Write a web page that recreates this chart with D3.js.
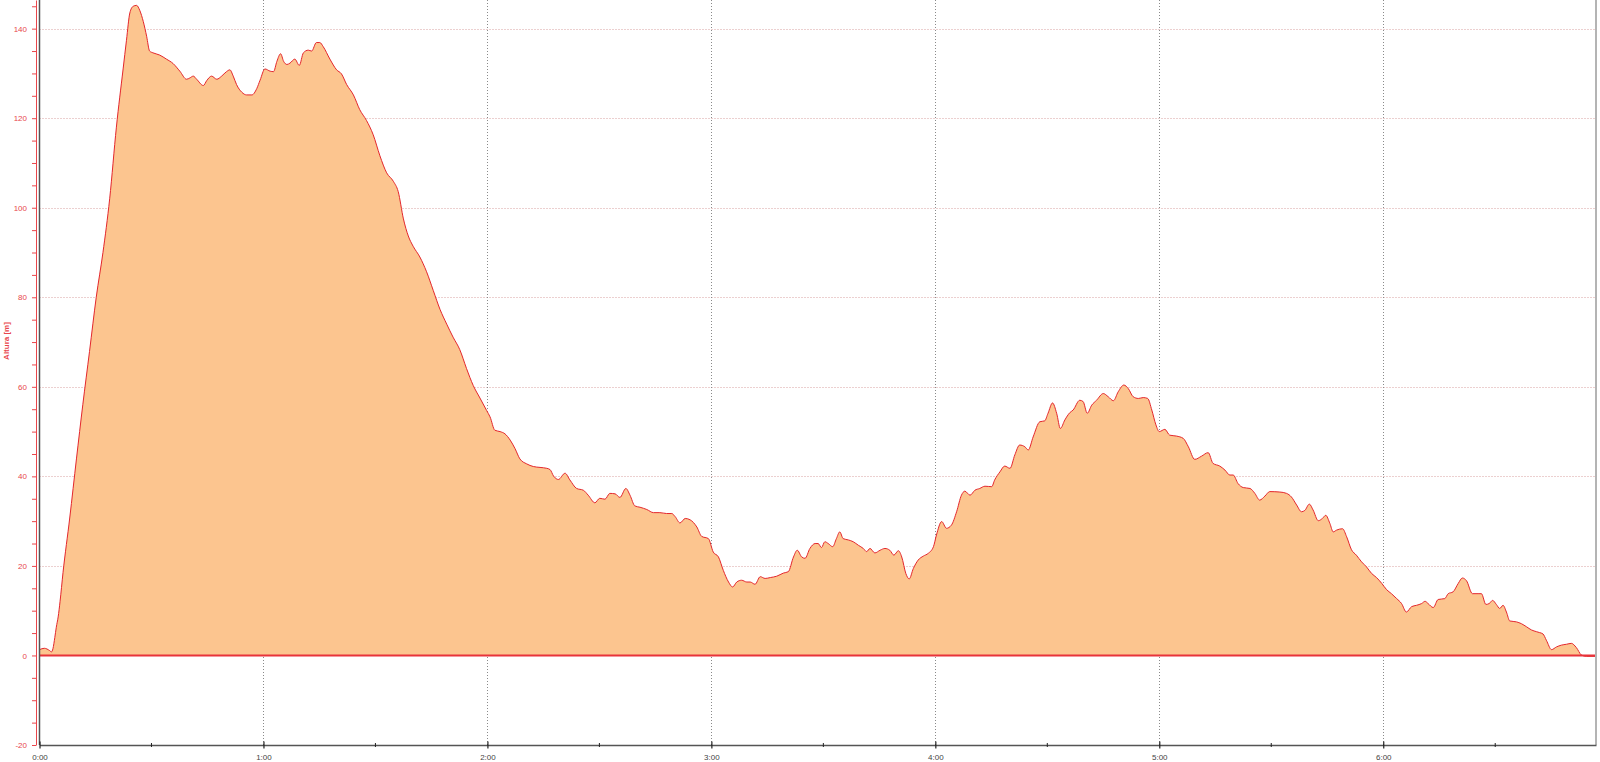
<!DOCTYPE html>
<html>
<head>
<meta charset="utf-8">
<script src="https://cdn.jsdelivr.net/npm/d3@7"></script>
<style>
html,body{margin:0;padding:0;background:#fff;overflow:hidden}
svg{display:block;font-family:"Liberation Sans",Arial,sans-serif}
</style>
</head>
<body>
<svg id="chart" width="1600" height="762"></svg>
<script>
// ---- data (elapsed time in minutes, altitude in metres) ----
const elapsedMin = [
  0,1.3,2.7,3.2,3.6,4.1,4.5,5.0,5.5,6.3,8.1,9.9,11.6,13.4,15.2,17.0,18.8,20.6,22.4,23.3,
  24.2,25.1,26.0,26.9,27.8,28.7,29.5,30.4,32.2,34.0,35.8,37.6,39.4,40.3,41.2,42.1,43.9,44.8,46.1,47.5,
  48.8,50.1,51.0,51.9,52.8,54.2,55.5,56.9,58.2,59.1,60.4,61.8,62.7,63.6,64.6,65.4,66.3,67.1,
  68.4,69.6,70.7,72.0,72.9,74.2,75.1,76.0,77.8,79.6,80.9,82.3,84.1,85.8,87.6,89.4,91.2,93.0,94.8,96.1,
  97.5,98.8,100.1,101.9,103.7,105.5,107.3,109.1,110.8,112.6,114.4,116.2,118.0,119.8,120.7,122.0,123.4,124.7,126.1,127.4,
  128.7,130.5,132.3,134.1,135.9,136.8,137.7,138.6,
  139.0,140.8,142.1,143.9,145.7,147.0,148.8,150.1,151.5,152.8,154.2,155.5,157.1,158.2,159.5,160.9,162.7,164.5,166.2,168.0,
  169.4,170.3,171.6,173.0,174.3,176.1,177.4,179.2,180.5,181.9,183.2,184.6,185.7,186.8,188.1,189.5,190.4,191.7,193.1,194.4,
  195.8,197.5,199.3,200.6,202.0,203.0,204.2,205.1,206.4,207.8,
  208.6,209.5,210.4,211.3,212.5,213.5,214.4,215.3,216.7,218.0,219.4,220.7,221.6,222.5,223.8,225.2,226.5,227.8,228.9,230.1,
  231.0,232.1,233.0,234.1,235.4,236.8,238.1,239.5,240.3,241.7,243.0,244.3,245.7,247.0,247.9,249.3,250.6,251.9,253.3,255.1,
  255.9,257.3,258.6,260.0,261.3,262.6,264.0,264.9,266.2,268.0,269.3,270.2,271.4,272.5,273.5,274.7,
  276.0,276.9,278.7,279.6,280.7,281.9,283.2,285.0,286.3,287.7,289.0,290.5,291.7,293.0,294.4,295.7,296.9,298.0,299.1,300.0,
  301.5,302.8,304.6,306.4,307.8,309.5,311.3,313.1,314.4,316.2,317.6,318.9,319.8,321.1,322.5,324.3,325.6,326.9,328.3,329.6,
  332.3,334.1,335.4,336.8,338.1,339.0,340.2,341.2,342.6,343.7,344.6,345.7,
  346.6,347.5,349.1,350.2,351.5,352.8,354.2,355.5,356.9,358.2,359.6,360.9,362.2,363.6,364.9,366.2,367.6,368.9,370.3,371.2,
  372.0,373.4,374.7,376.5,377.4,378.7,380.1,381.2,382.3,383.9,385.4,386.3,387.5,388.4,389.3,390.3,391.2,392.1,393.0,393.9,
  395.7,397.0,398.4,399.7,401.1,401.9,402.8,403.7,405.1,406.4,407.7,409.1,410.4,411.7,413.1,414.4,416.2,417.0
];
const altitudeM = [
  1.3,1.6,1.1,0.8,1.5,4.0,6.3,8.6,12.0,18.5,30.7,43.9,56.0,67.9,80.0,90.0,102.0,118.0,131.0,137.4,
  143.5,145.0,145.2,144.0,141.6,138.3,135.0,134.6,134.1,133.2,132.2,130.5,128.7,129.0,129.4,128.7,127.3,128.4,129.4,128.7,
  129.4,130.4,130.8,129.4,127.5,125.8,125.2,125.2,126.6,128.5,131.0,130.5,130.4,132.7,134.4,132.7,132.0,132.3,
  133.2,131.8,134.6,135.2,135.0,136.9,136.9,136.0,133.2,130.8,129.9,127.5,125.2,121.9,119.5,116.3,111.6,107.8,105.9,103.6,
  97.5,93.7,91.4,89.0,85.7,81.5,77.3,74.0,71.1,68.3,64.1,60.3,57.5,54.7,53.3,50.3,50.0,49.5,48.1,46.2,
  43.9,42.8,42.2,42.0,41.8,41.5,40.1,39.4,
  39.3,40.7,39.2,37.3,36.9,35.8,34.1,35.1,34.9,36.2,36.1,35.3,37.3,35.8,33.4,33.1,32.6,31.9,31.9,31.7,
  31.7,31.0,29.6,30.6,30.3,28.7,26.6,26.1,23.1,22.0,19.0,16.4,15.3,16.4,16.8,16.4,16.4,15.9,17.6,17.2,
  17.4,17.7,18.4,18.7,22.0,23.5,22.0,21.7,23.9,25.0,
  25.0,24.1,25.4,25.0,24.3,26.1,27.6,26.1,25.8,25.4,24.6,23.9,23.2,23.9,22.9,23.5,23.9,23.5,22.4,23.4,
  22.0,18.3,17.1,19.4,21.3,22.2,22.8,24.3,26.9,29.9,28.4,29.1,32.1,35.8,36.7,35.8,36.9,37.3,37.8,37.7,
  39.2,41.0,42.3,41.8,44.8,47.0,46.6,45.9,48.8,52.2,52.4,54.1,56.4,54.1,50.7,52.6,
  54.2,54.8,57.0,56.7,54.1,55.9,57.0,58.5,57.8,56.9,58.9,60.4,59.6,57.8,57.4,57.6,57.4,54.8,51.5,50.0,
  50.5,49.2,49.0,48.5,46.6,43.8,44.5,45.3,42.9,42.3,41.4,40.3,40.3,38.4,37.5,37.3,36.2,34.7,35.6,36.6,
  36.5,36.2,35.4,33.6,32.1,32.4,33.8,32.5,30.1,30.6,31.3,29.5,
  27.6,28.0,28.3,26.5,23.6,22.4,20.9,19.8,18.3,17.4,16.1,14.7,13.8,12.7,11.6,9.7,10.9,11.2,11.6,12.1,
  11.6,10.7,12.5,12.7,13.8,14.2,16.1,17.3,16.7,13.8,13.8,13.8,11.4,11.6,12.3,11.4,10.5,11.2,9.7,7.7,
  7.5,7.1,6.4,5.7,5.3,5.1,4.8,3.4,1.3,1.9,2.3,2.5,2.7,1.8,0.1,-0.2,-0.2,-0.2
];
const xExtent = [0, 417];
const yExtent = [-20, 146.4];
const yMajorTicks = [-20, 0, 20, 40, 60, 80, 100, 120, 140];
const yMinorTicks = d3.range(-20, 146, 5);
const xHourTicks = [0, 60, 120, 180, 240, 300, 360];
const xHalfTicks = [30, 90, 150, 210, 270, 330, 390];
const yTitle = "Altura [m]";

// ---- drawing ----
const svg = d3.select("#chart");
const L = 39.5, R = 1596, T = 0, B = 745;
const x = d3.scaleLinear().domain(xExtent).range([L, R]);
const y = d3.scaleLinear().domain(yExtent).range([B, T]);
const data = elapsedMin.map((t, i) => ({t, v: altitudeM[i]}));
const fmtTime = m => Math.floor(m / 60) + ":" + String(Math.round(m % 60)).padStart(2, "0");
const snap = v => Math.round(v) + 0.5;

svg.append("rect").attr("width", 1600).attr("height", 762).attr("fill", "#fff");

// horizontal grid
svg.append("g").selectAll("line").data(yMajorTicks.filter(d => d > 0)).join("line")
  .attr("x1", L).attr("x2", R).attr("y1", d => snap(y(d))).attr("y2", d => snap(y(d)))
  .attr("stroke", "#d9a0a0").attr("stroke-width", 1).attr("stroke-dasharray", "1,2");
// vertical grid
svg.append("g").selectAll("line").data(xHourTicks.filter(d => d > 0)).join("line")
  .attr("x1", d => snap(x(d))).attr("x2", d => snap(x(d))).attr("y1", T).attr("y2", B)
  .attr("stroke", "#8a8a8a").attr("stroke-width", 1).attr("stroke-dasharray", "1,2");

// area + line
const area = d3.area().x(d => x(d.t)).y0(y(0)).y1(d => y(d.v)).curve(d3.curveMonotoneX);
const line = d3.line().x(d => x(d.t)).y(d => y(d.v)).curve(d3.curveMonotoneX);
svg.append("path").datum(data).attr("d", area).attr("fill", "#FCC58F");
svg.append("path").datum(data).attr("d", line).attr("fill", "none")
  .attr("stroke", "#E3262C").attr("stroke-width", 1);

// zero line
svg.append("line").attr("x1", L).attr("x2", R).attr("y1", y(0)).attr("y2", y(0))
  .attr("stroke", "#E8333A").attr("stroke-width", 2);

// plot borders
svg.append("line").attr("x1", L).attr("x2", L).attr("y1", T).attr("y2", B)
  .attr("stroke", "#555").attr("stroke-width", 1.5);
svg.append("line").attr("x1", R).attr("x2", R).attr("y1", T).attr("y2", B)
  .attr("stroke", "#b4b4b4").attr("stroke-width", 2);

// y axis (red)
const yAxis = d3.axisLeft(y).tickValues(yMinorTicks).tickSize(4).tickSizeOuter(0).tickPadding(5)
  .tickFormat(d => yMajorTicks.includes(d) ? d : "");
const gy = svg.append("g").attr("transform", "translate(36,0)").call(yAxis);
gy.select(".domain").attr("stroke", "#E8464B");
gy.selectAll(".tick line").attr("stroke", "#E8464B");
gy.selectAll(".tick text").attr("fill", "#E8464B").attr("font-size", "8px")
  .attr("font-family", "'Liberation Sans',Arial,sans-serif");

// y title
svg.append("text").attr("transform", "translate(6,341) rotate(-90)")
  .attr("text-anchor", "middle").attr("dominant-baseline", "central")
  .attr("font-size", "8px").attr("font-weight", "bold").attr("fill", "#E8464B")
  .text(yTitle);

// x axis
const xAxis = d3.axisBottom(x).tickValues(xHourTicks).tickSize(3.5).tickSizeOuter(0).tickPadding(6)
  .tickFormat(fmtTime);
const gx = svg.append("g").attr("transform", `translate(0,${B})`).call(xAxis);
gx.select(".domain").attr("stroke", "#555").attr("stroke-width", 1.5);
gx.selectAll(".tick line").attr("y1", -3.5).attr("stroke", "#222").attr("stroke-width", 1.2);
gx.selectAll(".tick text").attr("fill", "#444").attr("font-size", "8px")
  .attr("font-family", "'Liberation Sans',Arial,sans-serif");
svg.append("g").selectAll("line").data(xHalfTicks.filter(d => d < xExtent[1])).join("line")
  .attr("x1", d => x(d)).attr("x2", d => x(d)).attr("y1", B - 2).attr("y2", B + 2)
  .attr("stroke", "#222").attr("stroke-width", 1);
</script>
</body>
</html>
